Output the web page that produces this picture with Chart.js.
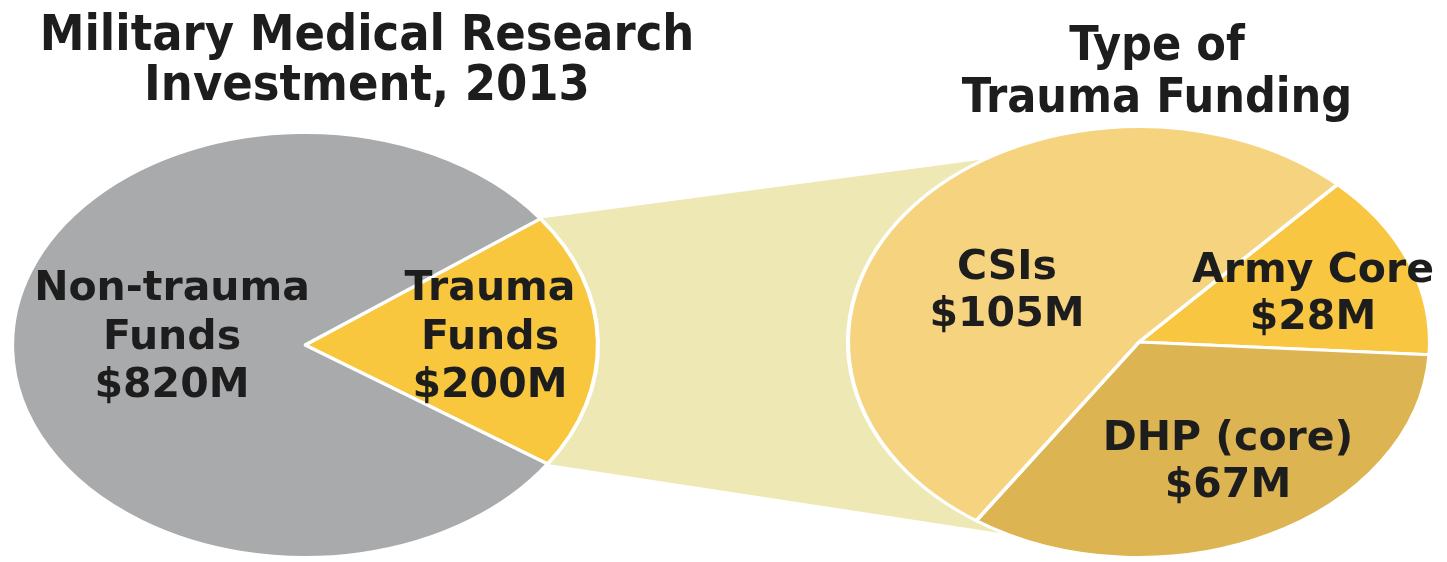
<!DOCTYPE html>
<html>
<head>
<meta charset="utf-8">
<script src="https://cdn.jsdelivr.net/npm/chart.js@4.4.1/dist/chart.umd.min.js"></script>
<style>
  html, body { margin: 0; padding: 0; background: #fff; }
  #wrap { position: relative; width: 1447px; height: 562px; overflow: hidden; }
  #wrap canvas { position: absolute; left: 0; top: 0; }
</style>
</head>
<body>
<div id="wrap">
  <canvas id="detailChart" width="1447" height="562"></canvas>
  <canvas id="mainChart" width="1447" height="562"></canvas>
</div>
<script>
// Data
const mainLabels = ['Trauma\nFunds', 'Non-trauma\nFunds'];
const mainValues = [200, 820];
const mainColors = ['#f8c73e', '#a9aaac'];

const detailLabels = ['Army Core', 'DHP (core)', 'CSIs'];
const detailValues = [28, 67, 105];
const detailColors = ['#f8c640', '#ddb452', '#f6d47f'];

const mainTitle = ['Military Medical Research', 'Investment, 2013'];
const detailTitle = ['Type of', 'Trauma Funding'];

// Layout (page pixels)
const W = 1447, H = 562;
const mainGeom = { x: 305, y: 345, rx: 295, ry: 214, rotation: 53.5 };
const detailGeom = { x: 1139, y: 342, rx: 293, ry: 217, rotation: 43 };
const connectorAngles = [-122, 117];
const TEXT = '#1d1d1d';
const LABEL_FONT = 'bold 41px "DejaVu Sans", "Liberation Sans", sans-serif';
const TITLE_FONT = 'bold 50px "DejaVu Sans Condensed", "Liberation Sans Narrow", "Liberation Sans", sans-serif';
const TITLE_FONT_R = 'bold 48px "DejaVu Sans Condensed", "Liberation Sans Narrow", "Liberation Sans", sans-serif';

let mainChart = null;

function padFor(g) {
  return { left: g.x - g.ry, top: g.y - g.ry, right: W - g.x - g.ry, bottom: H - g.y - g.ry };
}

function money(v) { return '$' + v + 'M'; }

// draws the pale band from the trauma wedge over to the detail pie
function drawConnector(ctx, arc, sx) {
  const m = mainChart.getDatasetMeta(0).data[0];
  const sxM = mainGeom.rx / mainGeom.ry;
  const p1 = { x: m.x + sxM * m.outerRadius * Math.cos(m.startAngle), y: m.y + m.outerRadius * Math.sin(m.startAngle) };
  const p2 = { x: m.x + sxM * m.outerRadius * Math.cos(m.endAngle), y: m.y + m.outerRadius * Math.sin(m.endAngle) };
  const a1 = connectorAngles[0] * Math.PI / 180;
  const a2 = connectorAngles[1] * Math.PI / 180;
  const R = arc.outerRadius;
  ctx.save();
  ctx.fillStyle = '#eee8b4';
  ctx.beginPath();
  ctx.moveTo(p1.x, p1.y);
  ctx.lineTo(arc.x + sx * R * Math.cos(a1), arc.y + R * Math.sin(a1));
  ctx.lineTo(arc.x, arc.y);
  ctx.lineTo(arc.x + sx * R * Math.cos(a2), arc.y + R * Math.sin(a2));
  ctx.lineTo(p2.x, p2.y);
  ctx.closePath();
  ctx.fill();
  ctx.restore();
}

const decor = {
  id: 'decor',
  beforeDatasetsDraw(chart, args, o) {
    const ctx = chart.ctx;
    const arc = chart.getDatasetMeta(0).data[0];
    if (o.connector) drawConnector(ctx, arc, o.sx);
    // stretch the pie into an ellipse
    ctx.save();
    ctx.translate(arc.x, arc.y);
    ctx.scale(o.sx, 1);
    ctx.translate(-arc.x, -arc.y);
  },
  afterDatasetsDraw(chart) {
    chart.ctx.restore();
  },
  afterDraw(chart, args, o) {
    const ctx = chart.ctx;
    const arc = chart.getDatasetMeta(0).data[0];
    const labels = chart.data.labels;
    const values = chart.data.datasets[0].data;
    ctx.save();
    ctx.fillStyle = TEXT;
    ctx.textAlign = 'center';
    ctx.textBaseline = 'alphabetic';
    ctx.font = LABEL_FONT;
    labels.forEach((lab, i) => {
      const lines = lab.split('\n').concat(money(values[i]));
      const off = o.offsets[i];
      lines.forEach((t, j) => {
        ctx.fillText(t, arc.x + off[0], arc.y + off[1] + j * o.lineHeight);
      });
    });
    ctx.font = o.titleFont;
    o.title.forEach((t, j) => {
      ctx.fillText(t, o.titleX, o.titleY[j]);
    });
    ctx.restore();
  }
};

function makeChart(id, labels, values, colors, geom, extra) {
  return new Chart(document.getElementById(id), {
    type: 'pie',
    data: {
      labels: labels,
      datasets: [{
        data: values,
        backgroundColor: colors,
        borderColor: '#ffffff',
        borderWidth: 3,
        clip: false
      }]
    },
    options: {
      responsive: false,
      animation: false,
      events: [],
      rotation: geom.rotation,
      layout: { padding: padFor(geom) },
      plugins: {
        legend: { display: false },
        tooltip: { enabled: false },
        decor: Object.assign({ sx: geom.rx / geom.ry }, extra)
      }
    },
    plugins: [decor]
  });
}

mainChart = makeChart('mainChart', mainLabels, mainValues, mainColors, mainGeom, {
  offsets: [[185, -45], [-133, -45]],
  lineHeight: 48.5,
  title: mainTitle,
  titleFont: TITLE_FONT,
  titleX: 367,
  titleY: [50, 100],
  connector: false
});

makeChart('detailChart', detailLabels, detailValues, detailColors, detailGeom, {
  offsets: [[174, -60], [89, 108], [-132, -63]],
  lineHeight: 47,
  title: detailTitle,
  titleFont: TITLE_FONT_R,
  titleX: 1157,
  titleY: [60, 112],
  connector: true
});
</script>
</body>
</html>
